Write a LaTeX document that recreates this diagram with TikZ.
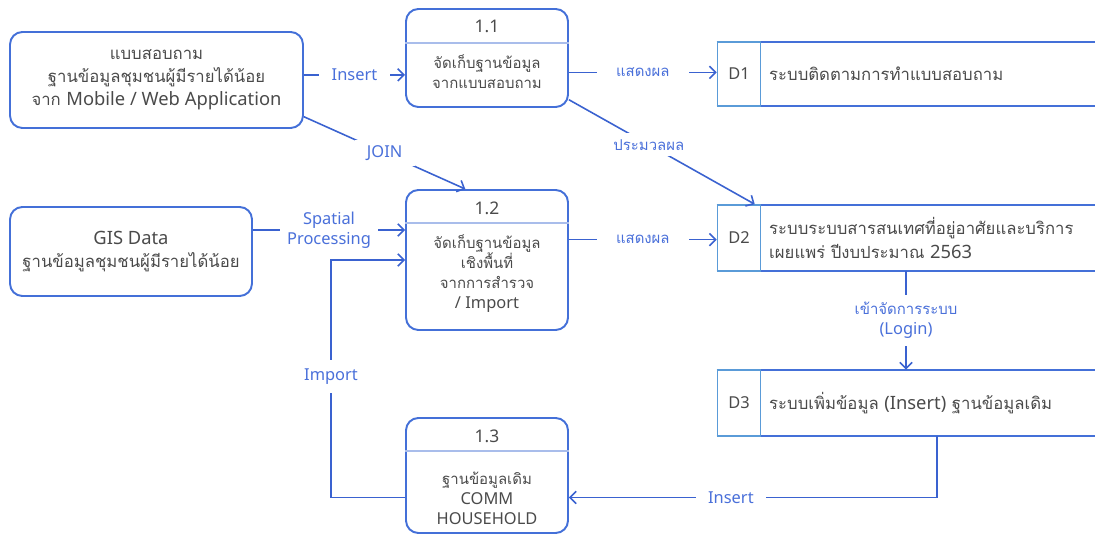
\documentclass[tikz,border=0pt]{standalone}
\usepackage{fontspec}
\setmainfont{Loma}[Script=Thai]
\newfontfamily\lat{Noto Sans}[Scale=1.1]
\usetikzlibrary{positioning,arrows.meta}
\definecolor{flowblue}{HTML}{3A62D0}
\definecolor{labelblue}{HTML}{4A70DA}
\definecolor{boxblue}{HTML}{4470D8}
\definecolor{storeblue}{HTML}{5A9BD8}
\definecolor{divblue}{HTML}{A9BDEB}
\definecolor{textgray}{HTML}{4A4A4A}
\tikzset{
  srcbox/.style={draw=boxblue, line width=1.1pt, rounded corners=7pt, align=center, text=textgray, font=\fontsize{9.5}{13}\selectfont},
  procbox/.style={draw=boxblue, line width=1.1pt, rounded corners=7pt, minimum width=3.24cm},
  proctext/.style={align=center, text=textgray, font=\fontsize{8.5}{11.4}\selectfont},
  divline/.style={draw=divblue, line width=0.8pt},
  storeid/.style={draw=storeblue, line width=0.9pt, minimum width=0.86cm, text=textgray, font=\lat\fontsize{8.5}{11}\selectfont},
  storeline/.style={draw=boxblue, line width=1.1pt},
  storetext/.style={align=left, text=textgray, font=\fontsize{9.5}{13.5}\selectfont},
  flow/.style={draw=flowblue, line width=0.9pt, -{Straight Barb[length=3.5pt,width=7pt]}},
  flowlbl/.style={fill=white, text=labelblue, align=center, inner xsep=7pt, font=\fontsize{8.5}{11.5}\selectfont}
}
\begin{document}
\begin{tikzpicture}[x=0.02cm, y=-0.02cm]
  \useasboundingbox (0,0) rectangle (1116,546);
  %sorgenti
  \node[srcbox, minimum width=5.86cm, minimum height=1.92cm] (srcA) at (156.5,80)
    {แบบสอบถาม\\ฐานข้อมูลชุมชนผู้มีรายได้น้อย\\จาก {\lat Mobile / Web Application}};
  \node[srcbox, minimum width=4.84cm, minimum height=1.78cm] (gis) at (131,251.5)
    {{\lat GIS Data}\\ฐานข้อมูลชุมชนผู้มีรายได้น้อย};
  %processi
  \node[procbox, minimum height=1.96cm] (p11) at (487,58) {};
  \node[procbox, minimum height=2.8cm] (p12) at (487,260) {};
  \node[procbox, minimum height=2.3cm] (p13) at (487,475.5) {};
  \draw[divline] ([yshift=-0.7cm]p11.north west) -- ([yshift=-0.7cm]p11.north east);
  \draw[divline] ([yshift=-0.68cm]p12.north west) -- ([yshift=-0.68cm]p12.north east);
  \draw[divline] ([yshift=-0.68cm]p13.north west) -- ([yshift=-0.68cm]p13.north east);
  \node[proctext, font=\lat\fontsize{9}{11}\selectfont] (t11) at (487,26) {1.1};
  \node[proctext, font=\lat\fontsize{9}{11}\selectfont] (t12) at (487,208) {1.2};
  \node[proctext, font=\lat\fontsize{9}{11}\selectfont] (t13) at (487,436) {1.3};
  \node[proctext] (b11) at (487,72) {จัดเก็บฐานข้อมูล\\จากแบบสอบถาม};
  \node[proctext] (b12) at (487,274) {จัดเก็บฐานข้อมูล\\เชิงพื้นที่\\จากการสำรวจ\\{\lat / Import}};
  \node[proctext] (b13) at (487,498) {ฐานข้อมูลเดิม\\{\lat COMM}\\{\lat HOUSEHOLD}};
  %archivi
  \node[minimum width=7.56cm, minimum height=1.28cm] (d1) at (906,74) {};
  \node[minimum width=7.56cm, minimum height=1.32cm] (d2) at (906,238) {};
  \node[minimum width=7.56cm, minimum height=1.32cm] (d3) at (906,403) {};
  \foreach \d in {d1,d2,d3} {
    \draw[storeline] (\d.north west) -- (\d.north east);
    \draw[storeline] (\d.south west) -- (\d.south east);
  }
  \node[storeid, minimum height=1.28cm, anchor=west] (d1id) at (d1.west) {D1};
  \node[storeid, minimum height=1.32cm, anchor=west] (d2id) at (d2.west) {D2};
  \node[storeid, minimum height=1.32cm, anchor=west] (d3id) at (d3.west) {D3};
  \node[storetext, right=1pt of d1id] (d1txt) {ระบบติดตามการทำแบบสอบถาม};
  \node[storetext, right=1pt of d2id] (d2txt) {ระบบระบบสารสนเทศที่อยู่อาศัยและบริการ\\เผยแพร่ ปีงบประมาณ {\lat 2563}};
  \node[storetext, right=1pt of d3id] (d3txt) {ระบบเพิ่มข้อมูล {\lat (Insert)} ฐานข้อมูลเดิม};
  %flussi
  \draw[flow] (srcA.2.7) -- node[flowlbl, font=\lat\fontsize{8.5}{11.5}\selectfont] {Insert} (srcA.2.7 -| p11.west);
  \draw[flow] (srcA.-14.5) -- node[flowlbl, font=\lat\fontsize{8.5}{11.5}\selectfont] {JOIN} (p12.107.5);
  \draw[flow] (p11.-10.5) -- node[flowlbl, inner xsep=11pt] {แสดงผล} (p11.-10.5 -| d1id.west);
  \draw[flow] (p11.-27.4) -- node[flowlbl, pos=0.43] {ประมวลผล} (d2id.65);
  \draw[flow] (gis.10) -- node[flowlbl, inner xsep=4pt, font=\lat\fontsize{8.5}{11.5}\selectfont] {Spatial\\Processing} (gis.10 -| p12.west);
  \draw[flow] (p12.14.5) -- node[flowlbl, inner xsep=11pt] {แสดงผล} (p12.14.5 -| d2id.west);
  \draw[flow] (d2.south) -- node[flowlbl, inner ysep=4pt] {เข้าจัดการระบบ\\{\lat (Login)}} (d3.north);
  \draw[flow] ([xshift=0.62cm]d3.south) |- node[flowlbl, pos=0.78, font=\lat\fontsize{8.5}{11.5}\selectfont] {Insert} (p13.-15);
  \draw[flow] (p13.195) -- ++(-74,0) |- node[flowlbl, pos=0.255, inner ysep=5pt, font=\lat\fontsize{8.5}{11.5}\selectfont] {Import} (p12.west);
\end{tikzpicture}
\end{document}
